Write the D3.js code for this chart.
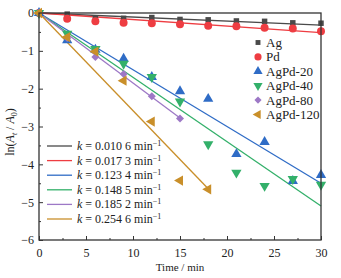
<!DOCTYPE html>
<html>
<head>
<meta charset="utf-8">
<script src="https://cdn.jsdelivr.net/npm/d3@7"></script>
<style>
  body { margin: 0; background: #fff; }
  svg { display: block; }
  text { font-family: "Liberation Serif", "DejaVu Serif", serif; fill: #222; }
  .frame { fill: none; stroke: #333; stroke-width: 1.3; }
  .tick line { stroke: #333; stroke-width: 1; }
  .domain { display: none; }
</style>
</head>
<body>
<div id="chart"></div>
<script>
var width = 341;
var height = 278;
var margin = {top: 13, right: 20, bottom: 38, left: 39};

// DATA
var times = [0, 3, 6, 9, 12, 15, 18, 21, 24, 27, 30];
var seriesNames = ['Ag', 'Pd', 'AgPd-20', 'AgPd-40', 'AgPd-80', 'AgPd-120'];
var valuesAg = [0, -0.03, -0.13, -0.14, -0.12, -0.17, -0.18, -0.21, -0.22, -0.26, -0.27];
var valuesPd = [0, -0.15, -0.22, -0.26, -0.27, -0.3, -0.34, -0.35, -0.39, -0.41, -0.48];
var valuesAgPd20 = [0, -0.72, -0.97, -1.21, -1.69, -2.07, -2.27, -3.73, -3.41, -4.44, -4.28];
var valuesAgPd40 = [0, -0.55, -0.95, -1.34, -1.69, -2.34, -3.47, -4.22, -4.57, -4.39, -4.54];
var valuesAgPd80 = [0, -0.66, -1.16, -1.61, -2.2, -2.79];
var valuesAgPd120 = [0, -0.64, -1.02, -1.79, -2.87, -4.43, -4.66];
// fitted lines as drawn (slope, end time)
var fitSlopes = [0.0106, 0.0173, 0.150, 0.170, 0.185, 0.258];
var fitEnds = [30, 30, 30, 30, 15, 18];
var fitLabels = ['0.010 6', '0.017 3', '0.123 4', '0.148 5', '0.185 2', '0.254 6'];
var xTicks = [0, 5, 10, 15, 20, 25, 30];
var yTicks = [0, -1, -2, -3, -4, -5, -6];

var colors = ['#4a4a4a', '#ee3d42', '#2f6cc6', '#33b06a', '#9d78c6', '#c98f2a'];
var symbols = [
  {type: d3.symbolSquare, rot: 0, size: 30},
  {type: d3.symbolCircle, rot: 0, size: 50},
  {type: d3.symbolTriangle, rot: 0, size: 46},
  {type: d3.symbolTriangle, rot: 180, size: 46},
  {type: d3.symbolSquare, rot: 45, size: 32},
  {type: d3.symbolTriangle, rot: -90, size: 46}
];
var allValues = [valuesAg, valuesPd, valuesAgPd20, valuesAgPd40, valuesAgPd80, valuesAgPd120];

var svg = d3.select('#chart').append('svg')
  .attr('width', width)
  .attr('height', height);

var x = d3.scaleLinear().domain([0, 30]).range([margin.left, width - margin.right]);
var y = d3.scaleLinear().domain([-6, 0]).range([height - margin.bottom, margin.top]);

// minor ticks
svg.append('g')
  .attr('transform', 'translate(0,' + y(-6) + ')')
  .call(d3.axisBottom(x).tickValues(d3.range(2.5, 30, 5)).tickSize(-2).tickFormat(''));
svg.append('g')
  .attr('transform', 'translate(' + x(0) + ',0)')
  .call(d3.axisLeft(y).tickValues(d3.range(-5.5, 0, 1)).tickSize(-2).tickFormat(''));

// major ticks
var xAxis = svg.append('g')
  .attr('transform', 'translate(0,' + y(-6) + ')')
  .call(d3.axisBottom(x).tickValues(xTicks).tickSize(-4).tickPadding(8).tickFormat(d3.format('d')));
xAxis.selectAll('text').style('font-size', '12px').attr('fill', '#222');

var yAxis = svg.append('g')
  .attr('transform', 'translate(' + x(0) + ',0)')
  .call(d3.axisLeft(y).tickValues(yTicks).tickSize(-4).tickPadding(5)
    .tickFormat(function (d) { return d === 0 ? '0' : '\u2212' + Math.abs(d); }));
yAxis.selectAll('text').style('font-size', '12px').attr('fill', '#222');

// fitted lines
var line = d3.line()
  .x(function (d) { return x(d[0]); })
  .y(function (d) { return y(d[1]); });

fitSlopes.forEach(function (k, i) {
  svg.append('path')
    .datum([[0, 0], [fitEnds[i], -k * fitEnds[i]]])
    .attr('fill', 'none')
    .attr('stroke', colors[i])
    .attr('stroke-width', 1.3)
    .attr('d', line);
});

// points
allValues.forEach(function (vals, i) {
  var sym = d3.symbol().type(symbols[i].type).size(symbols[i].size);
  svg.append('g').selectAll('path')
    .data(vals)
    .enter().append('path')
    .attr('d', sym)
    .attr('fill', colors[i])
    .attr('transform', function (d, j) {
      return 'translate(' + x(times[j]) + ',' + y(d) + ') rotate(' + symbols[i].rot + ')';
    });
});

// frame
svg.append('rect')
  .attr('class', 'frame')
  .attr('x', x(0))
  .attr('y', y(0))
  .attr('width', x(30) - x(0))
  .attr('height', y(-6) - y(0));

// marker legend
var legend1 = svg.append('g').attr('transform', 'translate(258,42.5)');
seriesNames.forEach(function (name, i) {
  var sym = d3.symbol().type(symbols[i].type).size(symbols[i].size * 0.8);
  var row = legend1.append('g').attr('transform', 'translate(0,' + (i * 14.4) + ')');
  row.append('path')
    .attr('d', sym)
    .attr('fill', colors[i])
    .attr('transform', 'rotate(' + symbols[i].rot + ')');
  row.append('text')
    .attr('x', 8)
    .attr('y', 4.5)
    .style('font-size', '13px')
    .text(name);
});

// line legend
var legend2 = svg.append('g').attr('transform', 'translate(47,146)');
fitLabels.forEach(function (lab, i) {
  var row = legend2.append('g').attr('transform', 'translate(0,' + (i * 14.6) + ')');
  row.append('line')
    .attr('x1', 0).attr('x2', 25)
    .attr('stroke', colors[i])
    .attr('stroke-width', 1.3);
  var t = row.append('text')
    .attr('x', 30)
    .attr('y', 4)
    .style('font-size', '12px');
  t.append('tspan').style('font-style', 'italic').text('k');
  t.append('tspan').text(' = ' + lab + ' min');
  t.append('tspan').attr('dy', -4).style('font-size', '8px').text('\u22121');
});

// axis titles
svg.append('text')
  .attr('x', (x(0) + x(30)) / 2)
  .attr('y', 271)
  .attr('text-anchor', 'middle')
  .style('font-size', '11px')
  .text('Time / min');

var yt = svg.append('text')
  .attr('transform', 'translate(14,132) rotate(-90)')
  .attr('text-anchor', 'middle')
  .style('font-size', '12px');
yt.append('tspan').text('ln(');
yt.append('tspan').style('font-style', 'italic').text('A');
yt.append('tspan').attr('dy', 3).style('font-size', '8px').style('font-style', 'italic').text('t');
yt.append('tspan').attr('dy', -3).text(' / ');
yt.append('tspan').style('font-style', 'italic').text('A');
yt.append('tspan').attr('dy', 3).style('font-size', '8px').text('0');
yt.append('tspan').attr('dy', -3).text(')');
</script>
</body>
</html>
